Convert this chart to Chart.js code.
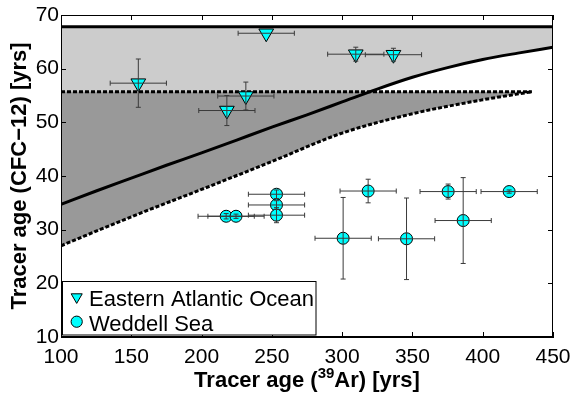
<!DOCTYPE html>
<html><head><meta charset="utf-8">
<script src="https://cdn.jsdelivr.net/npm/chart.js@4/dist/chart.umd.min.js"></script>
<style>html,body{margin:0;padding:0;background:#fff;}</style>
</head><body>
<canvas id="c" width="574" height="395"></canvas>
<script>
// ---- data ----
const xTicks = [100, 150, 200, 250, 300, 350, 400, 450];
const yTicks = [10, 20, 30, 40, 50, 60, 70];

// Eastern Atlantic Ocean
const atlX    = [155, 218, 231.5, 246, 309.7, 336.5];
const atlY    = [57.3, 52.2, 54.9, 66.6, 62.7, 62.6];
const atlXErr = [20, 20, 20, 20, 20, 20];
const atlYErr = [4.5, 2.8, 2.6, 0, 1.3, 1.2];

// Weddell Sea
const wedX    = [217.5, 224.5, 253.3, 253.3, 253.3, 300.7, 318.5, 345.8, 375.4, 386.1, 418.8];
const wedY    = [32.5, 32.5, 36.6, 34.6, 32.7, 28.4, 37.2, 28.3, 37.1, 31.7, 37.1];
const wedXErr = [20, 20, 20, 20, 20, 20, 20, 20, 20, 20, 20];
const wedYErr = [0.5, 0.4, 0.8, 0.8, 1.4, 7.6, 2.2, 7.6, 1.4, 8.0, 0.3];

// transit-time curve (solid)
const curveX = [100, 125, 150, 175, 200, 225, 250, 275, 300, 325, 350, 375, 400, 425, 450];
const curveY = [34.7, 37.2, 39.6, 42.0, 44.3, 46.7, 49.1, 51.4, 53.8, 56.2, 58.4, 60.2, 61.7, 62.9, 64.0];

// lower bound curve (dashed)
const lowerX = [100, 150, 200, 250, 300, 350, 400, 435];
const lowerY = [27.0, 32.4, 37.5, 42.7, 48.0, 51.6, 54.2, 55.7];

const maxCfcAge = 67.8;   // upper solid line
const satAge = 55.7;      // dashed horizontal line

const CYAN = '#00ffff';
const FONT = "'Liberation Sans', Arial, Helvetica, sans-serif";

const pts = (xs, ys) => xs.map((x, i) => ({x: x, y: ys[i]}));

const decor = {
  id: 'decor',
  afterDatasetsDraw(chart) {
    const ctx = chart.ctx, xs = chart.scales.x, ys = chart.scales.y;
    ctx.save();
    ctx.strokeStyle = '#3a3a3a';
    ctx.lineWidth = 1;
    const seg = (a, b, c, d) => { ctx.beginPath(); ctx.moveTo(a, b); ctx.lineTo(c, d); ctx.stroke(); };
    const cap = 2.5;
    const eb = (X, Y, XE, YE) => {
      X.forEach((xv, i) => {
        const px = xs.getPixelForValue(xv), py = ys.getPixelForValue(Y[i]);
        if (XE[i] > 0) {
          const x0 = xs.getPixelForValue(xv - XE[i]), x1 = xs.getPixelForValue(xv + XE[i]);
          seg(x0, py, x1, py); seg(x0, py - cap, x0, py + cap); seg(x1, py - cap, x1, py + cap);
        }
        if (YE[i] > 0) {
          const y0 = ys.getPixelForValue(Y[i] - YE[i]), y1 = ys.getPixelForValue(Y[i] + YE[i]);
          seg(px, y0, px, y1); seg(px - cap, y0, px + cap, y0); seg(px - cap, y1, px + cap, y1);
        }
      });
    };
    eb(atlX, atlY, atlXErr, atlYErr);
    eb(wedX, wedY, wedXErr, wedYErr);
    ctx.restore();
  },
  afterDraw(chart) {
    const ctx = chart.ctx, xs = chart.scales.x, ys = chart.scales.y, a = chart.chartArea;
    ctx.save();
    ctx.strokeStyle = '#000';
    ctx.lineWidth = 1;
    const seg = (p, q, r, s) => { ctx.beginPath(); ctx.moveTo(p, q); ctx.lineTo(r, s); ctx.stroke(); };
    // frame
    ctx.strokeRect(a.left + 0.5, a.top + 0.5, a.right - a.left - 1, a.bottom - a.top - 1);
    // inward ticks on all four sides
    const tl = 5;
    xTicks.forEach(v => {
      const p = Math.round(xs.getPixelForValue(v)) + 0.5;
      seg(p, a.bottom, p, a.bottom - tl); seg(p, a.top, p, a.top + tl);
    });
    yTicks.forEach(v => {
      const p = Math.round(ys.getPixelForValue(v)) + 0.5;
      seg(a.left, p, a.left + tl, p); seg(a.right, p, a.right - tl, p);
    });
    // legend
    const lx = 62.5, ly = 281.5, lw = 253.5, lh = 53.5;
    ctx.fillStyle = '#fff';
    ctx.fillRect(lx, ly, lw, lh);
    ctx.strokeRect(lx, ly, lw, lh);
    ctx.fillStyle = CYAN; ctx.strokeStyle = '#000';
    Chart.helpers.drawPoint(ctx, {pointStyle: 'triangle', rotation: 180, radius: 6.4, borderWidth: 1}, 76.7, 297);
    ctx.fillStyle = CYAN;
    Chart.helpers.drawPoint(ctx, {pointStyle: 'circle', rotation: 0, radius: 5.6, borderWidth: 1}, 76.7, 321.7);
    ctx.fillStyle = '#000';
    ctx.font = '22px ' + FONT;
    ctx.textBaseline = 'alphabetic';
    ctx.textAlign = 'left';
    ctx.fillText('Eastern Atlantic Ocean', 89, 306);
    ctx.fillText('Weddell Sea', 89, 330.5);
    // x title with superscript
    const big = 'bold 22px ' + FONT, small = 'bold 15px ' + FONT;
    const t1 = 'Tracer age (', t2 = '39', t3 = 'Ar) [yrs]';
    ctx.font = big; const w1 = ctx.measureText(t1).width, w3 = ctx.measureText(t3).width;
    ctx.font = small; const w2 = ctx.measureText(t2).width;
    const cx = (a.left + a.right) / 2;
    let x0 = cx - (w1 + w2 + w3) / 2;
    const base = 386.5;
    ctx.font = big; ctx.fillText(t1, x0, base);
    ctx.font = small; ctx.fillText(t2, x0 + w1, base - 9);
    ctx.font = big; ctx.fillText(t3, x0 + w1 + w2, base);
    // y title
    ctx.translate(25.5, (a.top + a.bottom) / 2);
    ctx.rotate(-Math.PI / 2);
    ctx.textAlign = 'center';
    ctx.font = big;
    ctx.fillText('Tracer age (CFC\u221212) [yrs]', 0, 0);
    ctx.restore();
  }
};

new Chart(document.getElementById('c'), {
  type: 'scatter',
  data: {
    datasets: [
      { label: 'Eastern Atlantic Ocean', data: pts(atlX, atlY), order: 0,
        pointStyle: 'triangle', rotation: 180, pointRadius: 8.5,
        backgroundColor: CYAN, borderColor: '#000', borderWidth: 1 },
      { label: 'Weddell Sea', data: pts(wedX, wedY), order: 0,
        pointStyle: 'circle', pointRadius: 6,
        backgroundColor: CYAN, borderColor: '#000', borderWidth: 1 },
      { label: 'upper', data: pts(curveX, curveX.map(() => maxCfcAge)), order: 4,
        showLine: true, pointRadius: 0, borderColor: '#000', borderWidth: 3,
        fill: { target: 3 }, backgroundColor: '#cccccc' },
      { label: 'curve', data: pts(curveX, curveY), order: 1,
        showLine: true, pointRadius: 0, borderColor: '#000', borderWidth: 3,
        cubicInterpolationMode: 'monotone', fill: false },
      { label: 'sat', data: pts(lowerX, lowerX.map(() => satAge)), order: 2,
        showLine: true, pointRadius: 0, borderColor: '#000', borderWidth: 3, borderDash: [4, 2],
        fill: { target: 5 }, backgroundColor: '#999999' },
      { label: 'lower', data: pts(lowerX, lowerY), order: 1,
        showLine: true, pointRadius: 0, borderColor: '#000', borderWidth: 3, borderDash: [4, 2],
        cubicInterpolationMode: 'monotone', fill: false }
    ]
  },
  options: {
    responsive: false,
    animation: false,
    events: [],
    layout: { padding: { top: 15, right: 21, left: 0, bottom: 0 } },
    plugins: { legend: { display: false }, tooltip: { enabled: false } },
    scales: {
      x: {
        type: 'linear', min: 100, max: 450,
        afterBuildTicks: s => { s.ticks = xTicks.map(v => ({value: v})); },
        afterFit: s => { s.height = 58; s.paddingLeft = 0; s.paddingRight = 0; },
        grid: { display: false, drawTicks: false, tickLength: 0 },
        border: { display: true, color: '#000', width: 1 },
        ticks: { color: '#000', font: { family: FONT, size: 21 }, padding: 8, maxRotation: 0, autoSkip: false }
      },
      y: {
        type: 'linear', min: 10, max: 70,
        afterBuildTicks: s => { s.ticks = yTicks.map(v => ({value: v})); },
        afterFit: s => { s.width = 61; s.paddingTop = 0; s.paddingBottom = 0; },
        grid: { display: false, drawTicks: false, tickLength: 0 },
        border: { display: true, color: '#000', width: 1 },
        ticks: { color: '#000', font: { family: FONT, size: 21 }, padding: 2, autoSkip: false }
      }
    }
  },
  plugins: [decor]
});
</script>
</body></html>
